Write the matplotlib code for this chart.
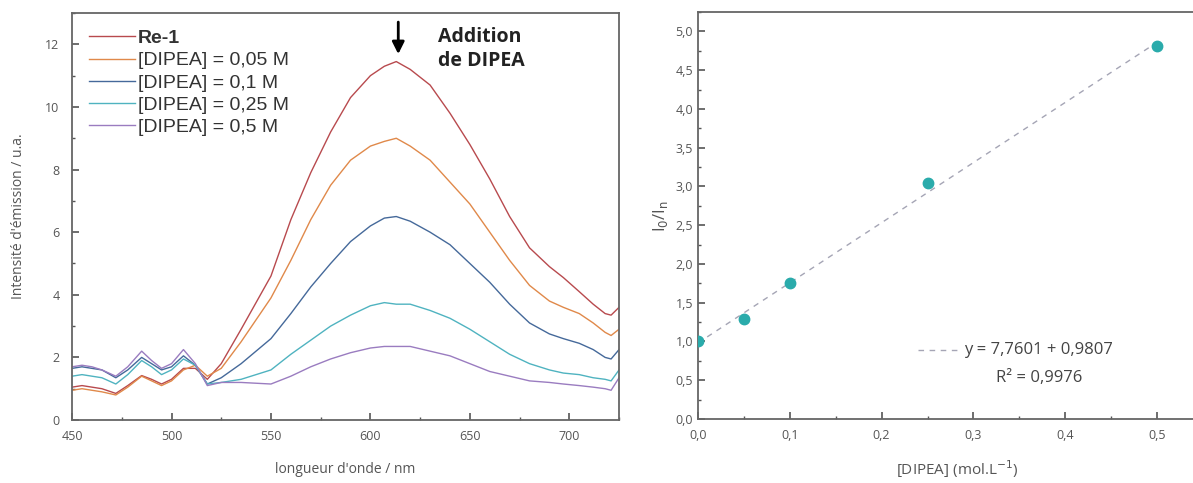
import matplotlib
matplotlib.use('Agg')
import matplotlib.pyplot as plt
import numpy as np
from matplotlib.ticker import MultipleLocator, FuncFormatter

plt.rcParams['font.family'] = ['Open Sans', 'DejaVu Sans']

# emission spectra
wl = [450, 455, 460, 465, 472, 478, 485, 490, 495, 500, 506, 512, 518, 525, 535,
      550, 560, 570, 580, 590, 600, 607, 613, 620, 630, 640, 650, 660, 670, 680,
      690, 697, 705, 712, 718, 721, 725]
re1 = [1.05, 1.1, 1.05, 1.0, 0.85, 1.1, 1.42, 1.3, 1.15, 1.3, 1.65, 1.65, 1.3, 1.8, 2.9,
       4.6, 6.4, 7.9, 9.2, 10.3, 11.0, 11.3, 11.45, 11.2, 10.7, 9.8, 8.8, 7.7, 6.5, 5.5,
       4.9, 4.55, 4.1, 3.7, 3.4, 3.35, 3.6]
dip_005 = [0.95, 1.0, 0.95, 0.9, 0.8, 1.05, 1.4, 1.25, 1.1, 1.25, 1.6, 1.75, 1.4, 1.65, 2.5,
           3.9, 5.1, 6.4, 7.5, 8.3, 8.75, 8.9, 9.0, 8.75, 8.3, 7.6, 6.9, 6.0, 5.1, 4.3,
           3.8, 3.6, 3.4, 3.1, 2.8, 2.7, 2.9]
dip_01 = [1.65, 1.7, 1.65, 1.6, 1.35, 1.6, 2.0, 1.8, 1.6, 1.7, 2.05, 1.75, 1.15, 1.35, 1.8,
          2.6, 3.4, 4.25, 5.0, 5.7, 6.2, 6.45, 6.5, 6.35, 6.0, 5.6, 5.0, 4.4, 3.7, 3.1,
          2.75, 2.6, 2.45, 2.25, 2.0, 1.95, 2.25]
dip_025 = [1.4, 1.45, 1.4, 1.35, 1.15, 1.45, 1.9, 1.7, 1.45, 1.6, 1.95, 1.75, 1.15, 1.2, 1.3,
           1.6, 2.1, 2.55, 3.0, 3.35, 3.65, 3.75, 3.7, 3.7, 3.5, 3.25, 2.9, 2.5, 2.1, 1.8,
           1.6, 1.5, 1.45, 1.35, 1.3, 1.25, 1.6]
dip_05 = [1.7, 1.75, 1.7, 1.6, 1.4, 1.7, 2.2, 1.9, 1.65, 1.8, 2.25, 1.8, 1.1, 1.2, 1.2,
          1.15, 1.4, 1.7, 1.95, 2.15, 2.3, 2.35, 2.35, 2.35, 2.2, 2.05, 1.8, 1.55, 1.4, 1.25,
          1.2, 1.15, 1.1, 1.05, 1.0, 0.95, 1.35]

spectra = [re1, dip_005, dip_01, dip_025, dip_05]
labels = ['Re-1', '[DIPEA] = 0,05 M', '[DIPEA] = 0,1 M', '[DIPEA] = 0,25 M', '[DIPEA] = 0,5 M']
colors = ['#b84a4e', '#e0894a', '#45699a', '#4fb3c0', '#9a7cc0']

# Stern-Volmer
conc = [0.0, 0.05, 0.1, 0.25, 0.5]
ratio = [1.0, 1.29, 1.76, 3.04, 4.81]
slope, intercept = 7.7601, 0.9807

grey = '#555555'

fig = plt.figure(figsize=(11.93, 4.83), dpi=100)

ax1 = fig.add_axes([0.0604, 0.1304, 0.4585, 0.8426])
for y, lab, c in zip(spectra, labels, colors):
    ax1.plot(wl, y, color=c, lw=1.0, label=lab)
ax1.set_xlim(450, 725)
ax1.set_ylim(0, 13)
ax1.xaxis.set_major_locator(MultipleLocator(50))
ax1.xaxis.set_minor_locator(MultipleLocator(25))
ax1.yaxis.set_major_locator(MultipleLocator(2))
ax1.yaxis.set_minor_locator(MultipleLocator(1))
ax1.set_xlabel("longueur d'onde / nm", color=grey, fontsize=10, labelpad=14)
ax1.set_ylabel("Intensité d'émission / u.a.", color=grey, fontsize=10, labelpad=14)

leg = ax1.legend(loc='upper left', frameon=False, handlelength=2.4,
                 handletextpad=0.15, labelspacing=0.24, borderaxespad=0.45,
                 prop={'family': ['Liberation Sans'], 'size': 14})
for t in leg.get_texts():
    t.set_color('#333333')
leg.get_texts()[0].set_fontweight('bold')

ax1.annotate('', xy=(614, 11.6), xytext=(614, 12.8),
             arrowprops=dict(arrowstyle='-|>', color='black', lw=2.0, mutation_scale=18))
ax1.text(634, 12.55, 'Addition\nde DIPEA', fontsize=14, fontweight='bold',
         color='#222222', va='top', ha='left', linespacing=1.25)

ax2 = fig.add_axes([0.585, 0.1325, 0.435, 0.8425])
xf = np.array([0.0, 0.5])
ax2.plot(xf, slope * xf + intercept, ls=(0, (4, 4)), color='#a5a5b5', lw=1.0)
ax2.plot(conc, ratio, 'o', color='#2aabab', ms=7.5, clip_on=True, zorder=3)
ax2.set_xlim(0, 0.565)
ax2.set_ylim(0, 5.25)
ax2.xaxis.set_major_locator(MultipleLocator(0.1))
ax2.xaxis.set_minor_locator(MultipleLocator(0.05))
ax2.yaxis.set_major_locator(MultipleLocator(0.5))
ax2.yaxis.set_minor_locator(MultipleLocator(0.25))
ax2.xaxis.set_major_formatter(FuncFormatter(lambda v, p: ('%.1f' % v).replace('.', ',')))
ax2.yaxis.set_major_formatter(FuncFormatter(lambda v, p: ('%.1f' % v).replace('.', ',')))
ax2.set_xlabel('[DIPEA] (mol.L$^{-1}$)', color=grey, fontsize=11, labelpad=12)
ax2.set_ylabel(r'I$_\mathrm{0}$/I$_\mathrm{n}$', color=grey, fontsize=12, labelpad=4)

ax2.plot([0.24, 0.287], [0.89, 0.89], ls=(0, (4, 4)), color='#a5a5b5', lw=1.0)
ax2.text(0.29, 0.89, 'y = 7,7601 + 0,9807', fontsize=12, color='#444444', va='center', ha='left')
ax2.text(0.372, 0.53, 'R² = 0,9976', fontsize=12, color='#444444', va='center', ha='center')

for ax in (ax1, ax2):
    for s in ax.spines.values():
        s.set_color('#666666')
        s.set_linewidth(1.3)
    ax.tick_params(which='both', direction='in', color='#555555', labelcolor=grey)
    ax.tick_params(which='major', length=5, width=1.2, labelsize=9)
    ax.tick_params(which='minor', length=2.5, width=1.0)
ax1.tick_params(axis='x', pad=7)
ax1.tick_params(axis='y', pad=9)
ax2.tick_params(axis='x', pad=7)

fig.savefig('out.png', dpi=100)
